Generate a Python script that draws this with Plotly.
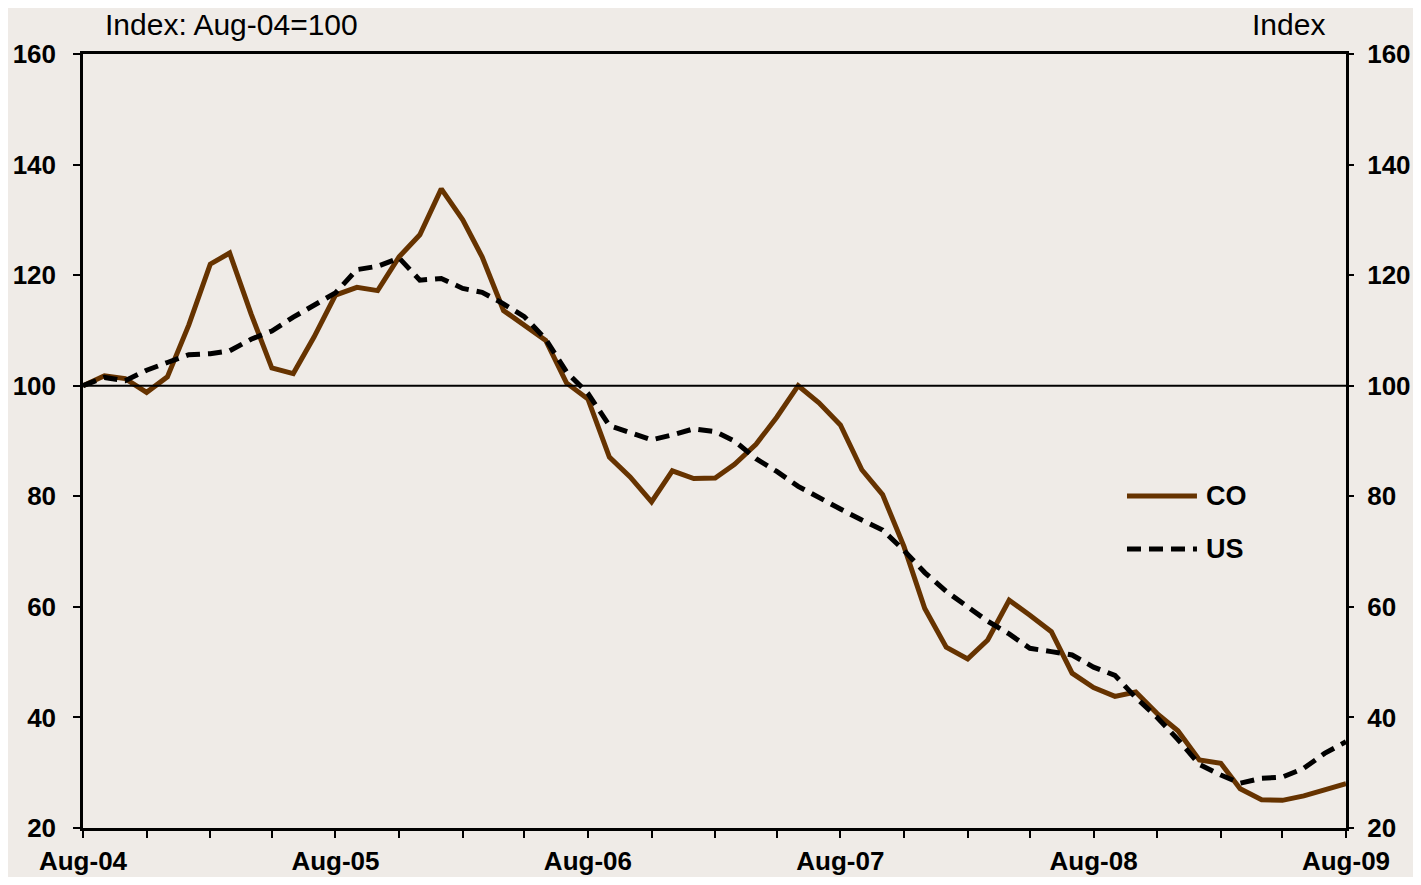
import plotly.graph_objects as go
import pandas as pd

# Monthly observations, Aug-2004 .. Aug-2009
months = pd.date_range("2004-08-01", "2009-08-01", freq="MS").strftime("%Y-%m-%d").tolist()

co = [100, 101.8, 101.3, 98.8, 101.6, 111, 122, 124, 113, 103.2,
      102.2, 108.8, 116.4, 117.8, 117.2, 123.3, 127.3, 135.6, 130, 123.3,
      113.6, 111, 108.2, 100.5, 97.6, 87.1, 83.5, 79, 84.6, 83.2,
      83.3, 85.8, 89.4, 94.3, 100, 96.9, 92.9, 84.8, 80.3, 70.9,
      59.7, 52.7, 50.6, 54, 61.2, 58.5, 55.5, 48, 45.4, 43.8,
      44.6, 40.7, 37.6, 32.3, 31.7, 27.1, 25.1, 25, 25.8, 26.9, 28]

us = [100, 101.5, 100.9, 102.8, 104.2, 105.6, 105.8, 106.3, 108.4, 109.9,
      112.4, 114.5, 116.8, 121, 121.6, 123.1, 119.1, 119.4, 117.6, 116.9,
      114.8, 112.5, 108.4, 102.5, 98.6, 92.8, 91.6, 90.2, 91.1, 92.2,
      91.7, 90, 86.8, 84.5, 81.8, 79.9, 77.7, 75.7, 73.9, 70.2,
      66.2, 62.8, 60.1, 57.4, 55.1, 52.5, 51.9, 51.3, 49.1, 47.6,
      43.6, 40, 36, 31.5, 29.6, 28.1, 29, 29.2, 30.8, 33.5, 35.6]

series_names = ["CO", "US"]
x_tick_vals = ["2004-08-01", "2005-08-01", "2006-08-01", "2007-08-01", "2008-08-01", "2009-08-01"]
x_tick_text = ["Aug-04", "Aug-05", "Aug-06", "Aug-07", "Aug-08", "Aug-09"]
y_ticks = [20, 40, 60, 80, 100, 120, 140, 160]

BG = "#EFEBE7"
FONT = "Liberation Sans"
CO_COLOR = "#663300"
US_DASH = "14px,8px"
LW = 5

fig = go.Figure()
fig.add_trace(go.Scatter(x=months, y=co, name=series_names[0], mode="lines",
                         line=dict(color=CO_COLOR, width=LW), showlegend=False))
fig.add_trace(go.Scatter(x=months, y=us, name=series_names[1], mode="lines",
                         line=dict(color="black", width=LW, dash=US_DASH),
                         showlegend=False))
# invisible trace to activate the right-hand axis
fig.add_trace(go.Scatter(x=months, y=us, yaxis="y2", mode="lines",
                         line=dict(width=0), opacity=0, showlegend=False,
                         hoverinfo="skip"))

fig.add_hline(y=100, line=dict(color="black", width=2))

# legend (long line samples, as in the original)
leg_x0, leg_x1, leg_tx = 0.8266, 0.8820, 0.8876
leg_rows = [0.4289, 0.3605]
leg_styles = [dict(color=CO_COLOR, width=LW), dict(color="black", width=LW, dash=US_DASH)]
for name, yy, st in zip(series_names, leg_rows, leg_styles):
    fig.add_shape(type="line", xref="paper", yref="paper",
                  x0=leg_x0, x1=leg_x1, y0=yy, y1=yy, line=st)
    fig.add_annotation(text=name, xref="paper", yref="paper", x=leg_tx, y=yy,
                       xanchor="left", yanchor="middle", showarrow=False,
                       font=dict(family=FONT, size=27, color="black", weight="bold"))

fig.add_annotation(text="Index: Aug-04=100", xref="paper", yref="paper",
                   x=0.0158, y=1.0375, xanchor="left", yanchor="middle",
                   showarrow=False, font=dict(family=FONT, size=30, color="black"))
fig.add_annotation(text="Index", xref="paper", yref="paper",
                   x=0.985, y=1.0375, xanchor="right", yanchor="middle",
                   showarrow=False, font=dict(family=FONT, size=30, color="black"))

tickfont = dict(family=FONT, size=26, color="black", weight="bold")

fig.update_layout(
    width=1405, height=869,
    margin=dict(l=75, r=67, t=46, b=49, autoexpand=False),
    paper_bgcolor=BG, plot_bgcolor=BG,
    font=dict(family=FONT, color="black"),
    xaxis=dict(type="date", range=["2004-08-01", "2009-08-01"],
               tickvals=x_tick_vals, ticktext=x_tick_text,
               ticks="outside", ticklen=7, tickwidth=2, tickcolor="black",
               minor=dict(dtick="M3", tick0="2004-08-01", ticks="outside",
                          ticklen=7, tickwidth=2, tickcolor="black"),
               showline=True, linewidth=2.5, linecolor="black", mirror=True,
               showgrid=False, zeroline=False, tickfont=tickfont,
               ticklabelstandoff=1, automargin=False),
    yaxis=dict(range=[20, 160], tickvals=y_ticks,
               ticks="outside", ticklen=7, tickwidth=2, tickcolor="black",
               showline=True, linewidth=2.5, linecolor="black", mirror=True,
               showgrid=False, zeroline=False, tickfont=tickfont,
               ticklabelstandoff=12, automargin=False),
    yaxis2=dict(range=[20, 160], tickvals=y_ticks, overlaying="y", side="right",
                ticks="outside", ticklen=7, tickwidth=2, tickcolor="black",
                showline=False, showgrid=False, zeroline=False,
                tickfont=tickfont, ticklabelstandoff=8, automargin=False),
)

fig.write_html("out.html")
